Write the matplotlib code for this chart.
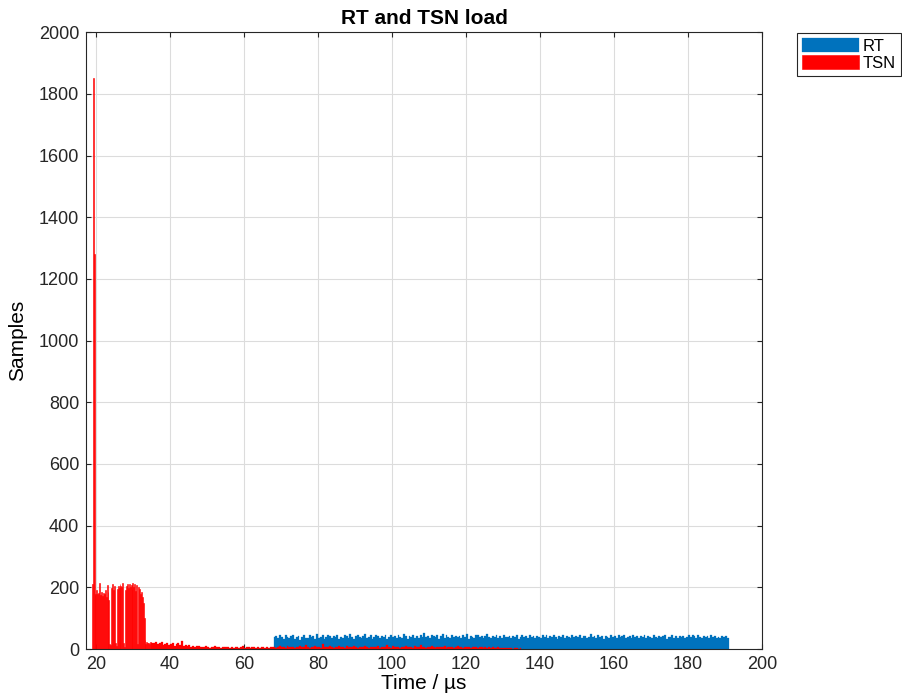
import numpy as np
import matplotlib.pyplot as plt

plt.rcParams['font.family'] = ['Liberation Sans', 'DejaVu Sans']

# RT load, 0.5 us bins starting at 68 us
rt_start = 68.0
rt_width = 0.5
rt_counts = [
    38, 42, 35, 44, 40, 33, 45, 39, 36, 41, 47, 34, 38, 43, 30, 40, 44, 37, 35, 46,
    39, 42, 33, 48, 36, 40, 44, 31, 38, 45, 41, 35, 43, 39, 47, 34, 40, 37, 44, 42,
    36, 50, 38, 33, 41, 45, 39, 35, 42, 48, 37, 40, 44, 32, 39, 46, 41, 36, 43, 38,
    45, 34, 40, 47, 38, 42, 35, 44, 39, 36, 48, 41, 33, 43, 40, 46, 37, 42, 35, 44,
    40, 52, 38, 43, 36, 47, 41, 39, 45, 34, 42, 50, 37, 44, 40, 35, 46, 39, 43, 38,
    41, 36, 45, 39, 48, 34, 42, 40, 37, 44, 46, 38, 41, 35, 43, 49, 39, 36, 42, 40,
    44, 37, 41, 35, 46, 40, 38, 43, 36, 42, 39, 47, 34, 40, 44, 38, 41, 36, 45, 39,
    42, 35, 43, 40, 37, 46, 39, 44, 36, 41, 38, 45, 40, 34, 43, 39, 47, 37, 42, 40,
    36, 44, 39, 42, 38, 46, 35, 41, 43, 37, 40, 48, 38, 42, 36, 45, 39, 41, 34, 43,
    40, 37, 45, 39, 42, 36, 44, 38, 41, 47, 35, 40, 43, 37, 46, 39, 42, 36, 41, 38,
    44, 35, 42, 39, 37, 45, 40, 36, 43, 38, 41, 46, 34, 40, 39, 44, 37, 42, 35, 41,
    38, 43, 36, 40, 45, 39, 47, 42, 37, 44, 40, 36, 43, 39, 41, 35, 46, 38, 42, 37,
    40, 36, 43, 38, 41, 35,
]

# TSN load, fine bins (0.25 us) around the start
tsn_head_start = 18.875
tsn_head_width = 0.25
tsn_head_counts = [
    212, 1850, 1280, 175, 180, 190, 178, 183, 213, 176, 185, 172, 181, 178, 190, 170,
    208, 184, 160, 15, 12, 198, 212, 190, 205, 18, 10, 195, 203, 198, 210, 205,
    200, 213, 20, 8, 190, 205, 210, 198, 212, 200, 208, 195, 214, 202, 210, 188,
    206, 15, 200, 195, 180, 185, 168, 150, 100, 30, 15, 22, 18, 20, 15, 22,
]

# TSN tail, 0.5 us bins from 35 us
tsn_tail_start = 35.0
tsn_tail_width = 0.5
tsn_tail_counts = [
    20, 18, 22, 15, 19, 24, 12, 17, 21, 14, 16, 20, 11, 15, 18, 13, 26, 10, 14, 9,
    12, 8, 10, 7, 9, 11, 6, 8, 5, 9, 7, 4, 8, 6, 10, 5, 7, 4, 6, 8,
    5, 7, 4, 6, 3, 8, 5, 4, 6, 9, 3, 5, 7, 4, 6, 5, 3, 7, 4, 6,
    5, 3, 6, 4, 7, 5, 8, 4, 6, 10, 5, 7, 4, 9, 6, 5, 8, 4, 7, 6,
    9, 5, 7, 12, 6, 4, 8, 6, 10, 5, 7, 4, 15, 6, 8, 5, 9, 6, 4, 8,
    6, 10, 5, 7, 4, 9, 6, 8, 5, 11, 7, 4, 8, 6, 5, 9, 7, 4, 6, 8,
    5, 7, 10, 4, 6, 8, 5, 12, 7, 4, 9, 6, 5, 8, 4, 7, 6, 10, 5, 8,
    6, 4, 9, 7, 5, 14, 6, 8, 4, 7, 5, 10, 6, 4, 8, 5, 7, 6, 9, 4,
    7, 5, 8, 4, 6, 9, 5, 7, 4, 6, 8, 5, 4, 7, 5, 6, 4, 8, 5, 3,
    5, 4, 6, 3, 5, 4, 2, 5, 3, 4, 2, 3, 4, 2, 3, 1, 2, 3, 1, 2,
]

rt_color = '#0072BD'
tsn_color = '#FF0000'

fig = plt.figure(figsize=(9.02, 6.99), dpi=100)
ax = fig.add_axes([0.0953, 0.0715, 0.7495, 0.8825])

rt_edges = rt_start + rt_width * np.arange(len(rt_counts))
ax.bar(rt_edges, rt_counts, width=rt_width, align='edge', color=rt_color,
       edgecolor=rt_color, linewidth=0.2, label='RT')

head_edges = tsn_head_start + tsn_head_width * np.arange(len(tsn_head_counts))
tail_edges = tsn_tail_start + tsn_tail_width * np.arange(len(tsn_tail_counts))
ax.bar(head_edges, tsn_head_counts, width=tsn_head_width, align='edge',
       color=tsn_color, edgecolor=tsn_color, linewidth=0.4, label='TSN')
ax.bar(tail_edges, tsn_tail_counts, width=tsn_tail_width, align='edge',
       color=tsn_color, edgecolor=tsn_color, linewidth=0.2)

ax.set_xlim(17.3, 200)
ax.set_ylim(0, 2000)
ax.set_xticks(np.arange(20, 201, 20))
ax.set_yticks(np.arange(0, 2001, 200))
ax.grid(True, color='#dcdcdc', linewidth=0.8)
ax.set_axisbelow(True)
ax.tick_params(direction='in', top=True, right=True, labelsize=13, colors='#262626', pad=5)
for s in ax.spines.values():
    s.set_color('#262626')
    s.set_linewidth(0.8)

ax.set_title('RT and TSN load', fontsize=15, fontweight='bold', pad=6)
ax.set_xlabel('Time / µs', fontsize=15, labelpad=1)
ax.set_ylabel('Samples', fontsize=15, labelpad=8)

leg = ax.legend(loc='upper left', bbox_to_anchor=(0.8836, 0.9528),
                bbox_transform=fig.transFigure, borderaxespad=0,
                fancybox=False, edgecolor='#262626', fontsize=12,
                handlelength=3.4, handleheight=0.9, handletextpad=0.25,
                labelspacing=0.1, borderpad=0.3, framealpha=1)
leg.get_frame().set_linewidth(0.8)

fig.savefig('out.png', dpi=100)
